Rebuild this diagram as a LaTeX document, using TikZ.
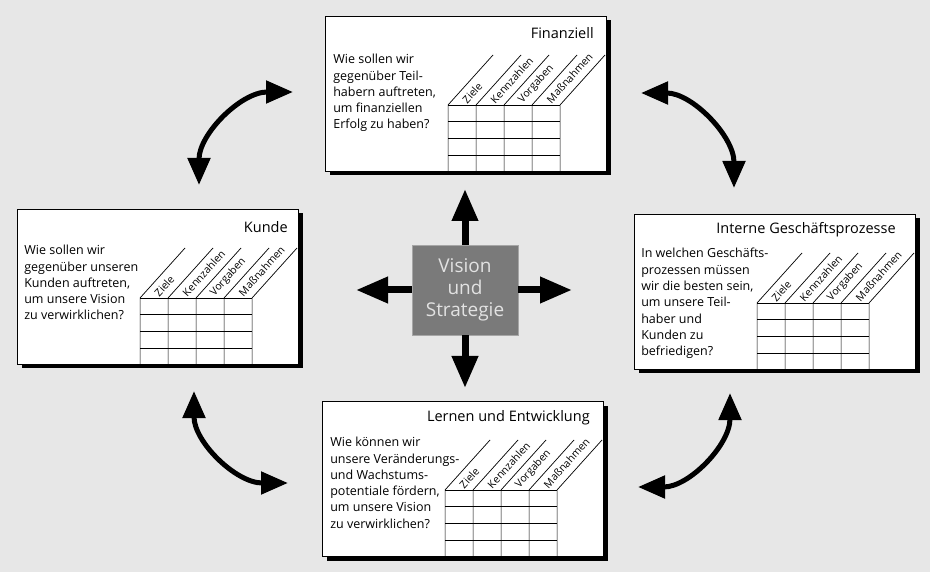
\documentclass[tikz,border=0pt]{standalone}
\usepackage{fontspec}
\setmainfont{Open Sans}
\usetikzlibrary{arrows.meta, positioning, shadows}
\definecolor{paper}{RGB}{231,231,231}
\definecolor{visiongray}{RGB}{122,122,122}
\definecolor{visiontext}{RGB}{226,226,226}

\tikzset{
  perspective/.style={draw, line width=0.8pt, fill=white, minimum width=281pt, minimum height=155pt,
    drop shadow={shadow xshift=4pt, shadow yshift=-4pt, fill=black, opacity=1}},
  headline/.style={inner sep=0pt, font=\fontsize{14.5}{16}\selectfont},
  question/.style={inner sep=0pt, align=left, font=\fontsize{12.5}{16.3}\selectfont},
  collabel/.style={inner sep=0.5pt, rotate=48, anchor=west, font=\fontsize{10.5}{10}\selectfont},
  gridline/.style={line width=0.7pt},
  visionbox/.style={fill=visiongray, draw=gray!70, minimum width=106pt, minimum height=90pt,
    align=center, text=visiontext, font=\fontsize{19}{22}\selectfont},
  bigarrow/.style={line width=7pt, -{Triangle[width=25pt,length=32pt]}},
  swing/.style={line width=5pt, {Triangle[width=22pt,length=27pt]}-{Triangle[width=22pt,length=27pt]}}
}

% table with slanted column heads, drawn at the foot of a perspective box
\newcommand{\kpitable}[1]{%
  \begin{scope}[shift={(#1.south west)}]
    \foreach \c in {0,...,4}
      \draw[gridline] (123+28*\c,0) -- (123+28*\c,-67) -- ++(45,-50);
    \foreach \r in {1,...,4}
      \draw[gridline] (123,-16.75*\r) -- (235,-16.75*\r);
    \foreach \lab [count=\c from 0] in {Ziele,Kennzahlen,Vorgaben,Maßnahmen}
      \node[collabel] at (139+28*\c,-70) {\lab};
  \end{scope}}

\begin{document}
\begin{tikzpicture}[x=1pt, y=-1pt]
% Paper
\fill[paper] (0,0) rectangle (930,572);
\useasboundingbox (0,0) rectangle (930,572);

% Vision und Strategie
\node[visionbox] (vision) at (465,290) {Vision\\und\\Strategie};

% Finanziell
\node[perspective] (fin) at (466,94) {};
\node[headline, below left=11pt and 13pt of fin.north east] (fintitle) {Finanziell};
\node[question, below right=38pt and 8pt of fin.north west] (finq) {Wie sollen wir\\gegenüber Teil-\\habern auftreten,\\um finanziellen\\Erfolg zu haben?};
\kpitable{fin}

% Kunde
\node[perspective] (kunde) at (158,287) {};
\node[headline, below left=12pt and 11pt of kunde.north east] (kundetitle) {Kunde};
\node[question, below right=36pt and 7pt of kunde.north west] (kundeq) {Wie sollen wir\\gegenüber unseren\\Kunden auftreten,\\um unsere Vision\\zu verwirklichen?};
\kpitable{kunde}

% Interne Geschaeftsprozesse
\node[perspective] (prozess) at (775,292) {};
\node[headline, below left=8pt and 20pt of prozess.north east] (prozesstitle) {Interne Geschäftsprozesse};
\node[question, below right=34pt and 7pt of prozess.north west] (prozessq) {In welchen Geschäfts-\\prozessen müssen\\wir die besten sein,\\um unsere Teil-\\haber und\\Kunden zu\\befriedigen?};
\kpitable{prozess}

% Lernen und Entwicklung
\node[perspective] (lernen) at (463,479) {};
\node[headline, below left=9pt and 14pt of lernen.north east] (lernentitle) {Lernen und Entwicklung};
\node[question, below right=36pt and 8pt of lernen.north west] (lernenq) {Wie können wir\\unsere Veränderungs-\\und Wachstums-\\potentiale fördern,\\um unsere Vision\\zu verwirklichen?};
\kpitable{lernen}

% Arrows out of the centre
\coordinate (tofin) at (465,189);
\coordinate (tokunde) at (356,290);
\coordinate (toprozess) at (572,290);
\coordinate (tolernen) at (465,388);
\draw[bigarrow] (vision.north) -- (tofin);
\draw[bigarrow] (vision.west) -- (tokunde);
\draw[bigarrow] (vision.east) -- (toprozess);
\draw[bigarrow] (vision.south) -- (tolernen);

% Curved arrows between the perspectives
\coordinate (kfa) at (199,185);
\coordinate (kfb) at (293,92);
\coordinate (fpa) at (641,93);
\coordinate (fpb) at (734,188);
\coordinate (kla) at (194,391);
\coordinate (klb) at (288,483);
\coordinate (pla) at (730,393);
\coordinate (plb) at (638,487);
\draw[swing] (kfa) .. controls (199,134) and (241,92) .. (kfb);
\draw[swing] (fpa) .. controls (692,93) and (734,136) .. (fpb);
\draw[swing] (kla) .. controls (194,442) and (236,483) .. (klb);
\draw[swing] (pla) .. controls (730,445) and (689,487) .. (plb);
\end{tikzpicture}
\end{document}
